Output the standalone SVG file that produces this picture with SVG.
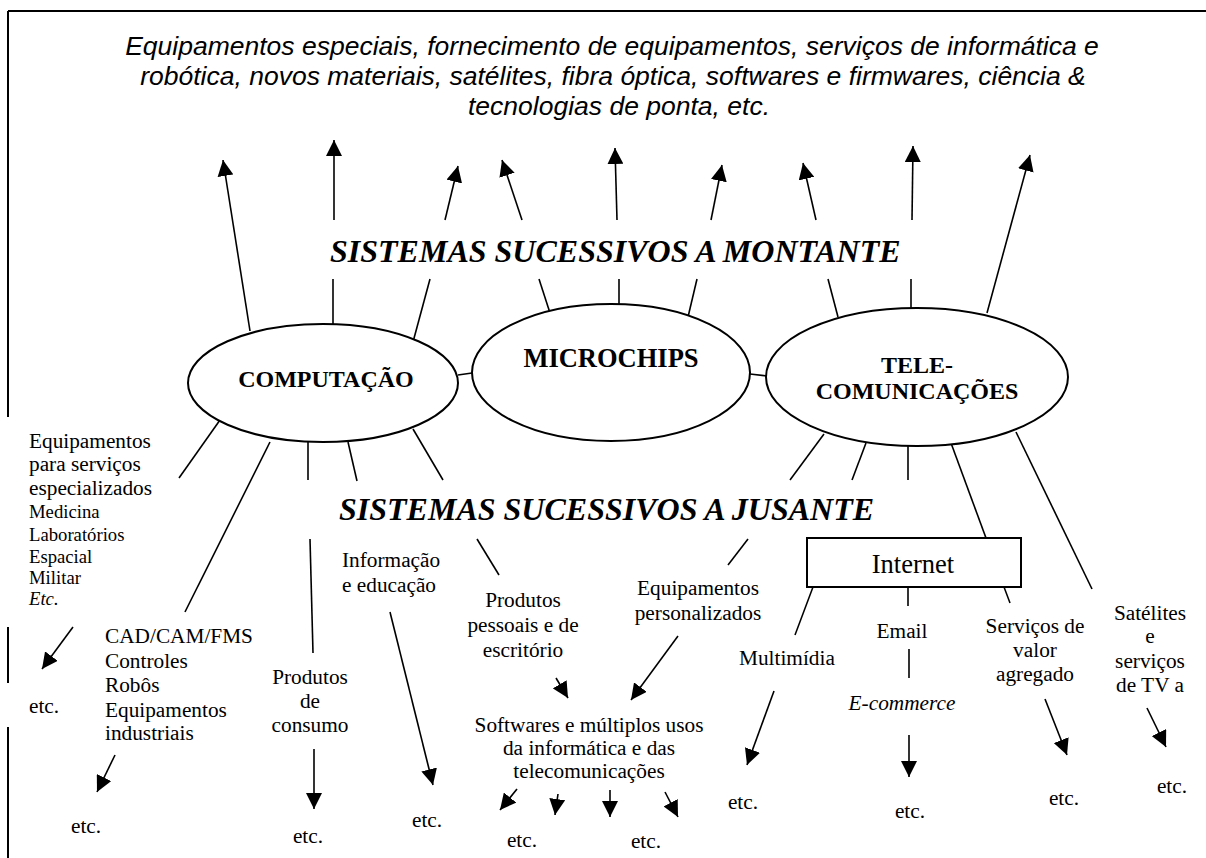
<svg xmlns="http://www.w3.org/2000/svg" width="1206" height="858" viewBox="0 0 1206 858">
<style>
.top{font-family:"Liberation Sans",Arial,sans-serif;font-style:italic;font-size:26.5px;fill:#000;text-anchor:middle}
.band{font-family:"Liberation Serif","Times New Roman",serif;font-style:italic;font-weight:bold;font-size:32px;fill:#000}
.nt{font-family:"Liberation Serif","Times New Roman",serif;font-weight:bold;font-size:24px;fill:#000;text-anchor:middle}
.t{font-family:"Liberation Serif","Times New Roman",serif;font-size:21.3px;fill:#000}
.s{font-family:"Liberation Serif","Times New Roman",serif;font-size:18.7px;fill:#000}
.c{text-anchor:middle}
.i{font-style:italic}
.ln{stroke:#000;stroke-width:1.6;fill:none}
.ar{stroke:#000;stroke-width:1.6;fill:none;marker-end:url(#ah)}
.el{fill:#fff;stroke:#000;stroke-width:2}
.frame{stroke:#000;stroke-width:2;fill:none}
</style>
<defs>
<marker id="ah" markerUnits="userSpaceOnUse" markerWidth="17" markerHeight="16" refX="16" refY="8" orient="auto" viewBox="0 0 17 16">
<path d="M0,0 L16,8 L0,16 z" fill="#000"/>
</marker>
</defs>
<rect width="1206" height="858" fill="#fff"/>
<g id="frame">
<path class="frame" d="M8,11 H1206 M8,11 V417 M8,627 V683 M8,727 V858"/>
</g>
<g id="top-text">
<text class="top" x="612" y="55">Equipamentos especiais, fornecimento de equipamentos, serviços de informática e</text>
<text class="top" x="613" y="85">robótica, novos materiais, satélites, fibra óptica, softwares e firmwares, ciência &amp;</text>
<text class="top" x="619" y="115">tecnologias de ponta, etc.</text>
</g>
<g id="band-montante"><text class="band" x="330" y="262">SISTEMAS SUCESSIVOS A MONTANTE</text></g>
<g id="band-jusante"><text class="band" x="339" y="520">SISTEMAS SUCESSIVOS A JUSANTE</text></g>
<g id="connectors">
<!-- upward -->
<line class="ar" x1="250" y1="331" x2="223" y2="160"/>
<line class="ln" x1="333" y1="325" x2="333" y2="279"/>
<line class="ar" x1="334" y1="220" x2="334" y2="140"/>
<line class="ln" x1="413" y1="342" x2="430" y2="279"/>
<line class="ar" x1="445" y1="220" x2="458" y2="166"/>
<line class="ln" x1="550" y1="313" x2="539" y2="279"/>
<line class="ar" x1="522" y1="220" x2="502" y2="160"/>
<line class="ln" x1="619" y1="305" x2="619" y2="279"/>
<line class="ar" x1="617" y1="220" x2="615" y2="148"/>
<line class="ln" x1="688" y1="317" x2="697" y2="279"/>
<line class="ar" x1="711" y1="220" x2="722" y2="165"/>
<line class="ln" x1="838" y1="317" x2="828" y2="279"/>
<line class="ar" x1="816" y1="220" x2="803" y2="163"/>
<line class="ln" x1="911" y1="310" x2="911" y2="279"/>
<line class="ar" x1="912" y1="220" x2="913" y2="146"/>
<line class="ar" x1="987" y1="313" x2="1030" y2="155"/>
<!-- between ellipses -->
<line class="ln" x1="458" y1="375" x2="472" y2="373"/>
<line class="ln" x1="750" y1="374" x2="767" y2="376"/>
<!-- downward from computacao -->
<line class="ln" x1="220" y1="420" x2="179" y2="478"/>
<line class="ln" x1="270" y1="442" x2="185" y2="612"/>
<line class="ln" x1="308" y1="442" x2="308" y2="480"/>
<line class="ln" x1="310" y1="539" x2="313" y2="653"/>
<line class="ln" x1="348" y1="442" x2="357" y2="481"/>
<line class="ln" x1="413" y1="429" x2="443" y2="480"/>
<line class="ln" x1="477" y1="539" x2="499" y2="575"/>
<!-- downward from tele -->
<line class="ln" x1="824" y1="434" x2="790" y2="480"/>
<line class="ln" x1="748" y1="539" x2="728" y2="565"/>
<line class="ln" x1="866" y1="443" x2="852" y2="480"/>
<line class="ln" x1="908" y1="445" x2="908" y2="480"/>
<line class="ln" x1="951" y1="443" x2="986" y2="538"/>
<line class="ln" x1="1016" y1="432" x2="1092" y2="589"/>
<!-- from internet -->
<line class="ln" x1="813" y1="587" x2="795" y2="635"/>
<line class="ln" x1="908" y1="587" x2="908" y2="606"/>
<line class="ln" x1="1004" y1="587" x2="1010" y2="603"/>
<line class="ln" x1="909" y1="649" x2="909" y2="678"/>
<!-- etc arrows -->
<line class="ar" x1="73" y1="627" x2="42" y2="669"/>
<line class="ar" x1="115" y1="755" x2="97" y2="792"/>
<line class="ar" x1="314" y1="749" x2="314" y2="809"/>
<line class="ar" x1="390" y1="612" x2="433" y2="785"/>
<line class="ar" x1="556" y1="678" x2="568" y2="698"/>
<line class="ar" x1="678" y1="636" x2="631" y2="700"/>
<line class="ar" x1="517" y1="789" x2="500" y2="810"/>
<line class="ar" x1="558" y1="794" x2="555" y2="815"/>
<line class="ar" x1="610" y1="790" x2="610" y2="817"/>
<line class="ar" x1="665" y1="792" x2="678" y2="817"/>
<line class="ar" x1="774" y1="691" x2="747" y2="765"/>
<line class="ar" x1="909" y1="735" x2="909" y2="777"/>
<line class="ar" x1="1045" y1="699" x2="1067" y2="755"/>
<line class="ar" x1="1147" y1="708" x2="1166" y2="747"/>
</g>
<g id="computacao">
<ellipse class="el" cx="323" cy="383" rx="135" ry="59"/>
<text class="nt" x="326" y="387">COMPUTAÇÃO</text>
</g>
<g id="microchips">
<ellipse class="el" cx="611" cy="372.5" rx="139" ry="68.5"/>
<text class="nt" x="611" y="367" style="font-size:26.5px">MICROCHIPS</text>
</g>
<g id="telecomunicacoes">
<ellipse class="el" cx="917" cy="377" rx="151" ry="69"/>
<text class="nt" x="917" y="373">TELE-</text>
<text class="nt" x="917" y="399">COMUNICAÇÕES</text>
</g>
<g id="internet">
<rect x="807" y="538" width="214" height="49" fill="#fff" stroke="#000" stroke-width="2"/>
<text class="t c" x="913" y="573" style="font-size:26.5px">Internet</text>
</g>
<g id="equip-especializados">
<text class="t" x="29" y="448">Equipamentos</text>
<text class="t" x="29" y="471">para serviços</text>
<text class="t" x="29" y="495">especializados</text>
<text class="s" x="29" y="518">Medicina</text>
<text class="s" x="29" y="541">Laboratórios</text>
<text class="s" x="29" y="563">Espacial</text>
<text class="s" x="29" y="584">Militar</text>
<text class="s i" x="29" y="605">Etc.</text>
<text class="t" x="29" y="713">etc.</text>
</g>
<g id="cad">
<text class="t" x="105" y="643">CAD/CAM/FMS</text>
<text class="t" x="105" y="668">Controles</text>
<text class="t" x="105" y="692">Robôs</text>
<text class="t" x="105" y="717">Equipamentos</text>
<text class="t" x="105" y="740">industriais</text>
<text class="t" x="71" y="833">etc.</text>
</g>
<g id="consumo">
<text class="t c" x="310" y="684">Produtos</text>
<text class="t c" x="310" y="708">de</text>
<text class="t c" x="310" y="732">consumo</text>
<text class="t c" x="308" y="843">etc.</text>
</g>
<g id="informacao">
<text class="t" x="342" y="567">Informação</text>
<text class="t" x="342" y="592">e educação</text>
<text class="t" x="412" y="827">etc.</text>
</g>
<g id="pessoais">
<text class="t c" x="523" y="607">Produtos</text>
<text class="t c" x="523" y="632">pessoais e de</text>
<text class="t c" x="523" y="657">escritório</text>
</g>
<g id="personalizados">
<text class="t c" x="698" y="595">Equipamentos</text>
<text class="t c" x="698" y="620">personalizados</text>
</g>
<g id="softwares">
<text class="t c" x="589" y="732">Softwares e múltiplos usos</text>
<text class="t c" x="589" y="755">da informática e das</text>
<text class="t c" x="589" y="778">telecomunicações</text>
<text class="t c" x="522" y="847">etc.</text>
<text class="t c" x="646" y="848">etc.</text>
</g>
<g id="multimidia">
<text class="t" x="739" y="665">Multimídia</text>
<text class="t c" x="743" y="809">etc.</text>
</g>
<g id="email">
<text class="t c" x="902" y="638">Email</text>
<text class="t c i" x="902" y="710">E-commerce</text>
<text class="t c" x="910" y="818">etc.</text>
</g>
<g id="valor">
<text class="t c" x="1035" y="633">Serviços de</text>
<text class="t c" x="1035" y="657">valor</text>
<text class="t c" x="1035" y="681">agregado</text>
<text class="t c" x="1064" y="805">etc.</text>
</g>
<g id="satelites">
<text class="t c" x="1150" y="620">Satélites</text>
<text class="t c" x="1150" y="643">e</text>
<text class="t c" x="1150" y="668">serviços</text>
<text class="t c" x="1150" y="692">de TV a</text>
<text class="t c" x="1172" y="793">etc.</text>
</g>
</svg>
